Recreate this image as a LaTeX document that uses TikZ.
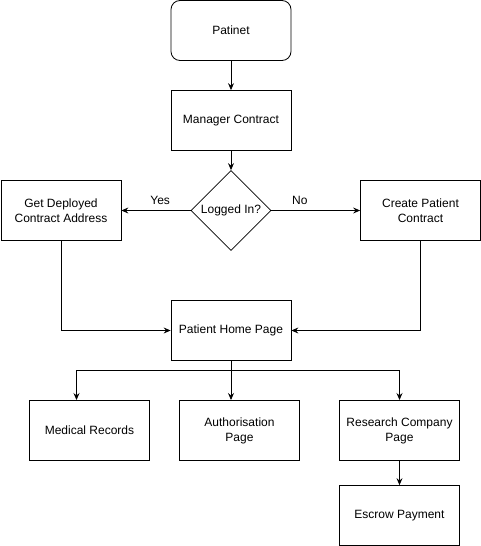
\documentclass[tikz,border=0pt]{standalone}
\usepackage{fontspec}
\setmainfont{Liberation Sans}
\usetikzlibrary{shapes.geometric,arrows.meta}

\begin{document}
\begin{tikzpicture}[x=1pt,y=-1pt,
        font=\fontsize{12}{15}\selectfont,
        box/.style={draw,line width=0.8pt,minimum width=120pt,minimum height=60pt,align=center,inner sep=2pt},
        startbox/.style={box,rounded corners=9pt},
        decision/.style={draw,line width=0.8pt,diamond,minimum width=80pt,minimum height=80pt,aspect=1,inner sep=0pt},
        link/.style={draw,line width=0.8pt,-{Stealth[length=7pt,width=6pt,inset=2.5pt]}},
        plain/.style={draw,line width=0.8pt}]
    \useasboundingbox (0,0) rectangle (481,546);

    \node[startbox] (patinet) at (231,30.5) {Patinet};
    \node[box] (manager) at (231,120.5) {Manager Contract};
    \node[decision] (logged) at (231,210.5) {Logged In?};
    \node[box] (deployed) at (61,210.5) {Get Deployed\\Contract Address};
    \node[box] (create) at (420.5,210.5) {Create Patient\\Contract};
    \node[box] (home) at (231,330.5) {Patient Home Page};
    \node[box] (medical) at (89.5,430.5) {Medical Records};
    \node[box] (auth) at (239.5,430.5) {Authorisation\\Page};
    \node[box] (research) at (399.5,430.5) {Research Company\\Page};
    \node[box] (escrow) at (399.5,515.5) {Escrow Payment};

    \coordinate (split) at (231,370.5);
    \coordinate (medtop) at (76.5,400);
    \coordinate (authtop) at (231,400);
    \coordinate (restop) at (399.5,400);

    \path[link] (patinet) -- (manager);
    \path[link] (manager) -- (logged);
    \path[link] (logged) -- node[pos=0.44,above=2pt] {Yes} (deployed);
    \path[link] (logged) -- node[pos=0.32,above=2pt] {No} (create);
    \path[link] (deployed) |- (home);
    \path[link] (create) |- (home);
    \path[plain] (home) -- (split);
    \path[link] (split) -- (authtop);
    \path[link] (split) -| (medtop);
    \path[link] (split) -| (restop);
    \path[link] (research) -- (escrow);
\end{tikzpicture}
\end{document}
